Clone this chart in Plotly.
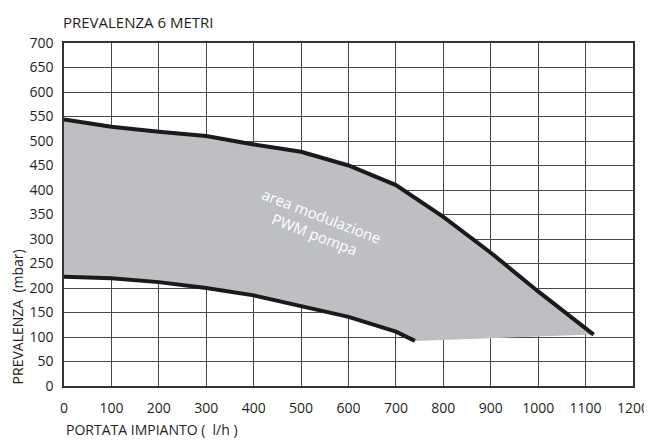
import plotly.graph_objects as go

# curva superiore (velocità massima) e inferiore (velocità minima)
upper_x = [0, 100, 200, 300, 400, 500, 600, 700, 800, 900, 1000, 1117]
upper_y = [544, 529, 519, 510, 493, 478, 450, 410, 345, 272, 193, 105]
lower_x = [0, 100, 200, 300, 400, 500, 600, 700, 740]
lower_y = [223, 220, 212, 200, 185, 162, 141, 111, 92]

x_ticks = list(range(0, 1201, 100))
y_ticks = list(range(0, 701, 50))

FONT = "Open Sans, Lato, sans-serif"
INK = "#231f20"
LINE = "#1a1a1a"

fig = go.Figure()

# area grigia tra le due curve (poligono chiuso)
fig.add_trace(
    go.Scatter(
        x=upper_x + lower_x[::-1],
        y=upper_y + lower_y[::-1],
        fill="toself",
        fillcolor="#bebfc3",
        mode="none",
        hoverinfo="skip",
        showlegend=False,
    )
)
for xs, ys in ((upper_x, upper_y), (lower_x, lower_y)):
    fig.add_trace(
        go.Scatter(
            x=xs,
            y=ys,
            mode="lines",
            line={"color": LINE, "width": 4},
            hoverinfo="skip",
            showlegend=False,
        )
    )

fig.add_annotation(
    x=535,
    y=328,
    text="area modulazione<br>PWM pompa",
    showarrow=False,
    textangle=21,
    font={"family": FONT, "size": 15, "color": "white"},
)

# la pagina ha 8px di margine nel body: la figura è più piccola della finestra
fig.update_layout(
    width=644,
    height=434,
    margin={"l": 56, "r": 19, "t": 35, "b": 56, "autoexpand": False},
    paper_bgcolor="white",
    plot_bgcolor="white",
    font={"family": FONT, "size": 14, "color": INK},
    annotations=list(fig.layout.annotations)
    + [
        go.layout.Annotation(
            text="PREVALENZA 6 METRI", xref="paper", yref="paper", x=0, y=1,
            xanchor="left", yanchor="bottom", yshift=9, xshift=-3, showarrow=False,
            font={"family": FONT, "size": 15, "color": INK},
        ),
        go.layout.Annotation(
            text="PORTATA IMPIANTO (  l/h )", xref="paper", yref="paper", x=0, y=0,
            xanchor="left", yanchor="top", yshift=-32, showarrow=False,
            font={"family": FONT, "size": 14, "color": INK},
        ),
        go.layout.Annotation(
            text="PREVALENZA  (mbar)", xref="paper", yref="paper", x=0, y=0.2,
            xanchor="center", yanchor="middle", xshift=-47, textangle=-90,
            showarrow=False, font={"family": FONT, "size": 14, "color": INK},
        ),
    ],
)

axis_style = dict(
    showgrid=True,
    gridcolor="#4a4a4a",
    gridwidth=1,
    showline=True,
    linecolor="#333",
    linewidth=1.5,
    mirror=True,
    zeroline=False,
    ticks="",
    automargin=False,
    fixedrange=True,
)
fig.update_xaxes(range=[0, 1200], tickvals=x_ticks, ticklabelstandoff=8, **axis_style)
fig.update_yaxes(range=[0, 700], tickvals=y_ticks, ticklabelstandoff=6, **axis_style)

fig.write_html("out.html")
